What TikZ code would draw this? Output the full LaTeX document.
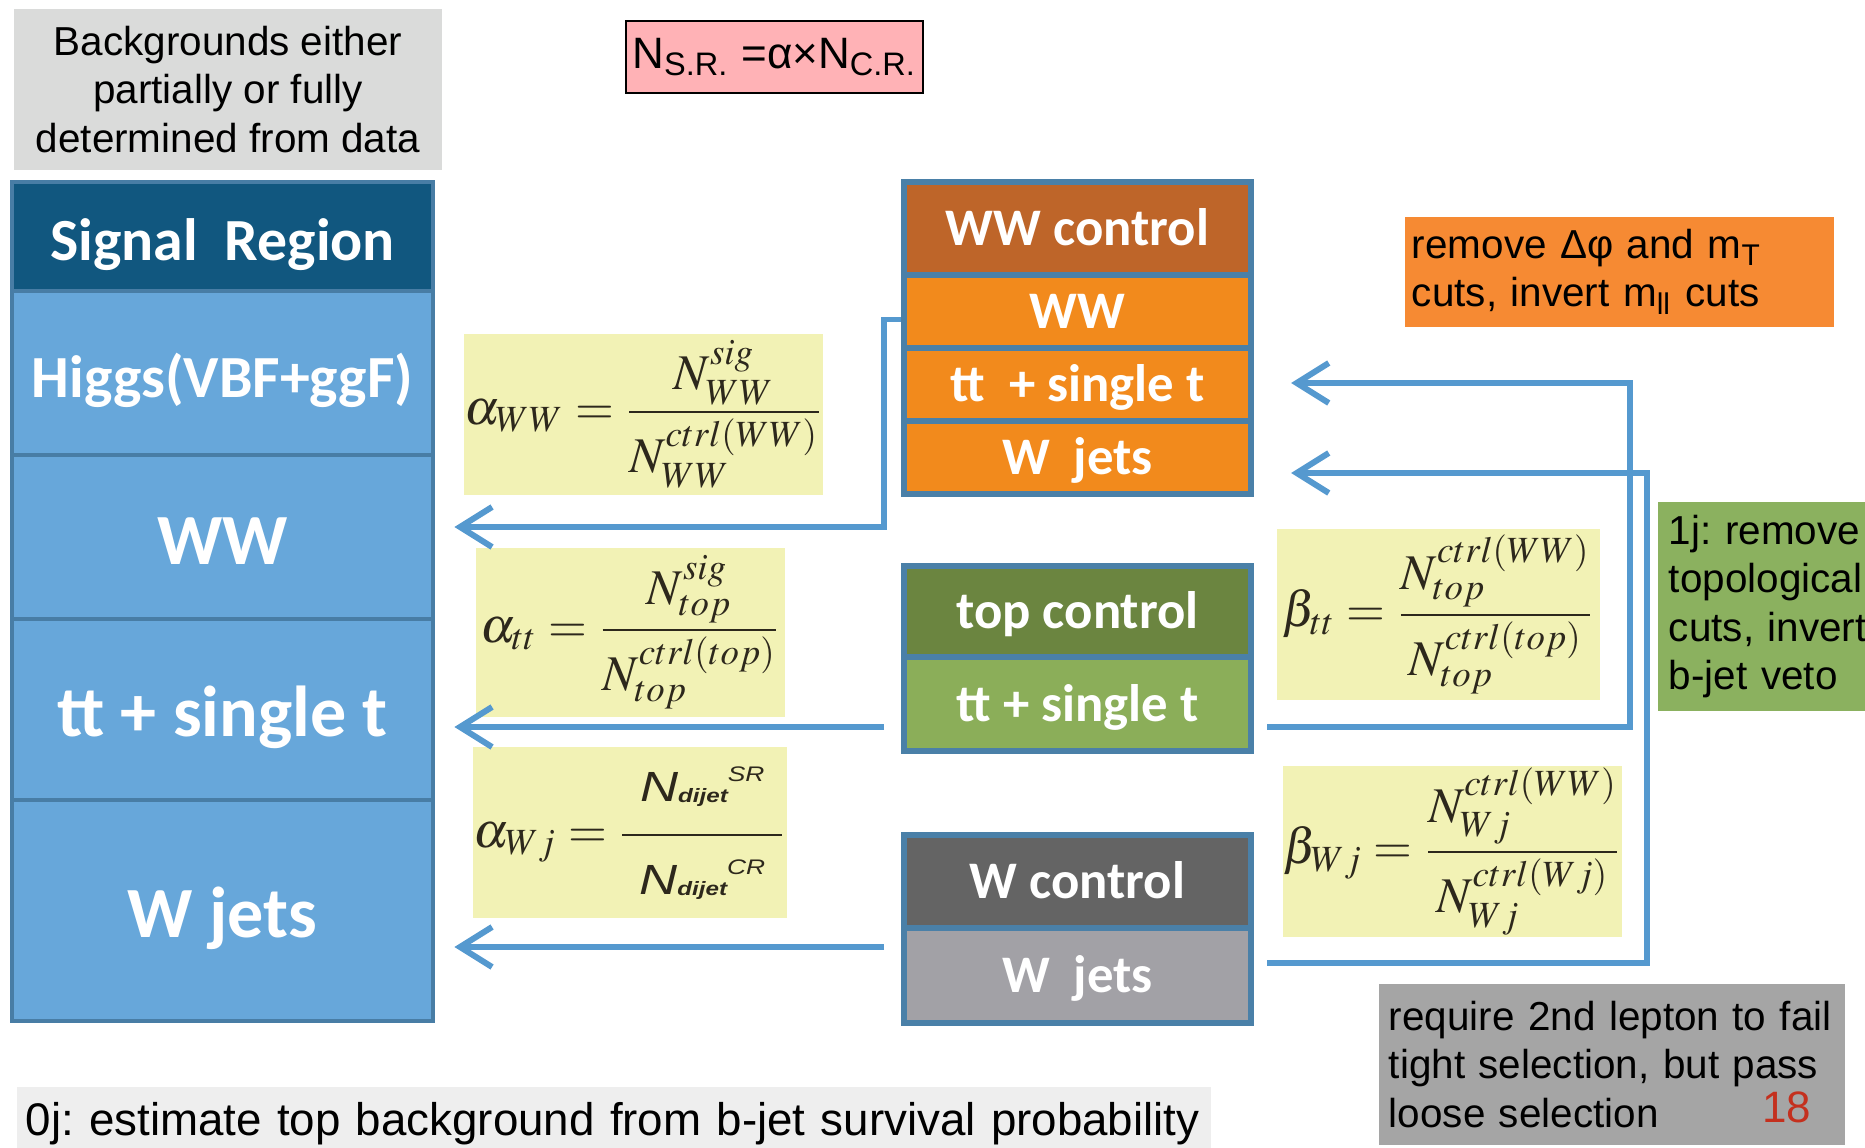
\documentclass[tikz,border=0pt]{standalone}
\usepackage{amsmath}
\usepackage{graphicx}
\usepackage{mathptmx}
\usepackage[no-math]{fontspec}
\setmainfont{Liberation Sans}
\newfontfamily\calibri{Carlito}
\usetikzlibrary{arrows.meta,calc}

\definecolor{bggray}{RGB}{218,219,218}
\definecolor{relpink}{RGB}{255,178,182}
\definecolor{srhead}{RGB}{17,87,127}
\definecolor{srblue}{RGB}{103,167,218}
\definecolor{srline}{RGB}{72,125,165}
\definecolor{crline}{RGB}{74,128,168}
\definecolor{wwhead}{RGB}{190,101,41}
\definecolor{wwrow}{RGB}{242,138,28}
\definecolor{tophead}{RGB}{107,133,64}
\definecolor{toprow}{RGB}{139,174,89}
\definecolor{whead}{RGB}{100,100,100}
\definecolor{wrow}{RGB}{162,161,166}
\definecolor{ratioyellow}{RGB}{242,242,181}
\definecolor{eqink}{RGB}{45,40,28}
\definecolor{flowblue}{RGB}{85,153,207}
\definecolor{cutorange}{RGB}{246,138,51}
\definecolor{cutgreen}{RGB}{139,177,95}
\definecolor{cutgray}{RGB}{165,165,165}
\definecolor{zerojgray}{RGB}{238,238,238}
\definecolor{pagered}{RGB}{196,48,30}

% dijet count, with the region as a superscript
\newcommand{\dijetN}[1]{\scalebox{1.25}[1]{{\fontsize{12}{14}\selectfont\itshape N}%
  \raisebox{-0.5pt}{\fontsize{5.5}{6}\selectfont\bfseries\itshape dijet}%
  \raisebox{5.5pt}{\fontsize{6}{7}\selectfont\itshape #1}}}

\frenchspacing
\begin{document}
\begin{tikzpicture}[x=0.01cm, y=-0.01cm,
    srcell/.style={draw=srline, line width=1.3pt, fill=srblue, minimum width=4.21cm,
      inner sep=0pt, text=white, text height=0.545cm, text depth=0pt,
      font=\calibri\bfseries\fontsize{20.5}{24}\selectfont},
    srsmall/.style={text height=0.485cm, font=\calibri\bfseries\fontsize{17}{20}\selectfont},
    crcell/.style={draw=crline, line width=1.7pt, minimum width=3.47cm,
      inner sep=0pt, text=white, text height=0.34cm, text depth=0pt,
      font=\calibri\bfseries\fontsize{15}{18}\selectfont},
    ratio/.style={fill=ratioyellow, inner sep=0pt, text=eqink,
      font=\fontsize{14.2}{17}\selectfont},
    note/.style={inner sep=0pt, align=left, text=black,
      font=\fontsize{11.5}{13.7}\selectfont},
    flow/.style={draw=flowblue, line width=1.7pt, shorten >=0.19cm,
      -{Straight Barb[length=0.32cm,width=0.4cm]}}]
    \useasboundingbox (0,0) rectangle (1865,1148);

    % Notes at the top
    \node[note, fill=bggray, align=center, minimum width=4.28cm, minimum height=1.61cm] (bgnote)
        at (228,89.5) {Backgrounds either\\partially or fully\\determined from data};
    \node[note, fill=relpink, draw=black, line width=0.6pt, align=center, minimum width=2.97cm,
        minimum height=0.72cm, font=\fontsize{12.5}{15}\selectfont] (relation)
        at (774.5,57) {N\textsubscript{S.R.} =α×N\textsubscript{C.R.}};

    % Signal region column
    \node[srcell, srsmall, fill=srhead, minimum height=1.09cm] (sr-head) at (222.5,236.5) {Signal\ \ Region};
    \node[srcell, srsmall, minimum height=1.64cm] (sr-higgs) at (222.5,373) {Higgs(VBF+ggF)};
    \node[srcell, minimum height=1.64cm] (sr-ww) at (222.5,537) {WW};
    \node[srcell, minimum height=1.81cm] (sr-top) at (222.5,709.5) {tt + single t};
    \node[srcell, minimum height=2.21cm] (sr-wj) at (222.5,910.5) {W jets};

    % WW control region
    \node[crcell, fill=wwhead, minimum height=0.93cm] (wwc-head) at (1077.5,228.5) {WW control};
    \node[crcell, fill=wwrow, minimum height=0.73cm] (wwc-ww) at (1077.5,311.5) {WW};
    \node[crcell, fill=wwrow, minimum height=0.73cm] (wwc-top) at (1077.5,384.5) {tt\ \ + single t};
    \node[crcell, fill=wwrow, minimum height=0.73cm] (wwc-wj) at (1077.5,457.5) {W\ \ jets};

    % top control region
    \node[crcell, fill=tophead, minimum height=0.91cm] (topc-head) at (1077.5,611.5) {top control};
    \node[crcell, fill=toprow, minimum height=0.94cm] (topc-top) at (1077.5,704) {tt + single t};

    % W control region
    \node[crcell, fill=whead, minimum height=0.93cm] (wc-head) at (1077.5,881.5) {W control};
    \node[crcell, fill=wrow, minimum height=0.95cm] (wc-wj) at (1077.5,975.5) {W\ \ jets};

    % Transfer factors
    \node[ratio, minimum width=3.57cm, minimum height=1.61cm] (r-aww) at (643.5,414.5)
        {$\alpha_{WW} = \dfrac{N^{sig}_{WW}}{N^{ctrl(WW)}_{WW}}$};
    \node[ratio, minimum width=3.09cm, minimum height=1.69cm] (r-att) at (630.5,632.5)
        {$\alpha_{tt} = \dfrac{N^{sig}_{top}}{N^{ctrl(top)}_{top}}$};
    \node[ratio, minimum width=3.14cm, minimum height=1.71cm] (r-awj) at (630,832.5)
        {$\alpha_{Wj} = \dfrac{\makebox[1.6cm]{\raisebox{0pt}[0.3cm][0.27cm]{\dijetN{SR}}}}
         {\makebox[1.6cm]{\raisebox{0pt}[0.52cm][0pt]{\dijetN{CR}}}}$};
    \node[ratio, minimum width=3.23cm, minimum height=1.71cm] (r-btt) at (1438.5,614.5)
        {$\beta_{tt} = \dfrac{N^{ctrl(WW)}_{top}}{N^{ctrl(top)}_{top}}$};
    \node[ratio, minimum width=3.35cm, minimum height=1.71cm] (r-bwj) at (1452.5,851.5)
        {$\beta_{Wj} = \dfrac{N^{ctrl(WW)}_{Wj}}{N^{ctrl(Wj)}_{Wj}}$};

    % Selection notes
    \node[note, fill=cutorange, text width=4.15cm, inner xsep=0.07cm, minimum height=1.1cm]
        (ww-cuts) at (1619.5,272) {remove Δφ and m\textsubscript{T}\\cuts, invert m\textsubscript{ll} cuts};
    \node[note, fill=cutgreen, text width=2.2cm, inner xsep=0.11cm, minimum height=2.09cm]
        (top-cuts) at (1779,606.5) {1j: remove\\topological\\cuts, invert\\b-jet veto};
    \node[note, fill=cutgray, text width=4.46cm, inner xsep=0.1cm, minimum height=1.61cm]
        (wj-cuts) at (1612,1064.5) {require 2nd lepton to fail\\tight selection, but pass\\loose selection};
    \node[inner sep=0pt, text=pagered, font=\fontsize{12.5}{15}\selectfont] (pagenum) at (1787,1107) {18};
    \node[note, fill=zerojgray, text width=11.76cm, inner xsep=0.09cm, minimum height=0.73cm,
        font=\fontsize{13}{15}\selectfont] (zeroj) at (614,1123.5)
        {0j: estimate top background from b-jet survival probability};

    % Arrows back to the signal region
    \coordinate (ww-bend) at (884,527);
    \coordinate (top-start) at (884,727);
    \coordinate (wj-start) at (884,947);
    \draw[flow] ([yshift=-0.08cm]wwc-ww.west) -| (ww-bend) -- (ww-bend -| sr-ww.east);
    \draw[flow] (top-start) -- (top-start -| sr-top.east);
    \draw[flow] (wj-start) -- (wj-start -| sr-wj.east);

    % Arrows up into the WW control region
    \coordinate (top-back) at (1267,727);
    \coordinate (top-rise) at (1630,383);
    \coordinate (wj-back) at (1267,963);
    \coordinate (wj-rise) at (1647,473);
    \draw[flow, shorten >=0.37cm] (top-back) -| (top-rise) -- (top-rise -| wwc-top.east);
    \draw[flow, shorten >=0.37cm] (wj-back) -| (wj-rise) -- (wj-rise -| wwc-wj.east);
\end{tikzpicture}
\end{document}
